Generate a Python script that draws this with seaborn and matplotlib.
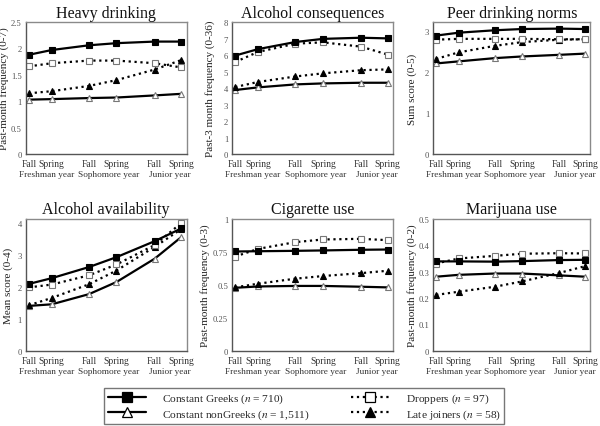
import matplotlib
matplotlib.use("Agg")
import matplotlib.pyplot as plt
import matplotlib.transforms as mtransforms
from matplotlib.lines import Line2D
from matplotlib.ticker import FuncFormatter
import seaborn as sns
import pandas as pd

sns.set_theme(style="white")
plt.rcParams['font.family'] = ['Liberation Serif', 'DejaVu Serif']
plt.rcParams['mathtext.fontset'] = 'stix'

# ---------------- data ----------------
waves = ["Fall", "Spring", "Fall", "Spring", "Fall", "Spring"]
years = ["Freshman year", "Sophomore year", "Junior year"]
groups = ["Constant Greeks", "Constant nonGreeks", "Droppers", "Late joiners"]

titles = ["Heavy drinking", "Alcohol consequences", "Peer drinking norms",
          "Alcohol availability", "Cigarette use", "Marijuana use"]
ylabels = ["Past-month frequency (0-7)", "Past-3 month frequency (0-36)", "Sum score (0-5)",
           "Mean score (0-4)", "Past-month frequency (0-3)", "Past-month frequency (0-2)"]

heavy_greeks = [1.88, 1.97, 2.06, 2.10, 2.13, 2.13]
heavy_nongreeks = [1.03, 1.04, 1.06, 1.07, 1.11, 1.14]
heavy_droppers = [1.66, 1.72, 1.77, 1.77, 1.72, 1.64]
heavy_late = [1.15, 1.19, 1.29, 1.40, 1.60, 1.78]

cons_greeks = [5.97, 6.36, 6.79, 6.98, 7.05, 7.01]
cons_nongreeks = [3.88, 4.04, 4.22, 4.28, 4.32, 4.32]
cons_droppers = [5.58, 6.19, 6.69, 6.77, 6.51, 6.03]
cons_late = [4.06, 4.37, 4.70, 4.89, 5.08, 5.13]

norms_greeks = [2.89, 2.96, 3.02, 3.05, 3.06, 3.05]
norms_nongreeks = [2.21, 2.26, 2.34, 2.38, 2.42, 2.45]
norms_droppers = [2.79, 2.81, 2.81, 2.81, 2.80, 2.80]
norms_late = [2.32, 2.48, 2.64, 2.73, 2.79, 2.80]

avail_greeks = [2.10, 2.28, 2.63, 2.94, 3.44, 3.84]
avail_nongreeks = [1.41, 1.46, 1.78, 2.16, 2.89, 3.57]
avail_droppers = [1.99, 2.08, 2.37, 2.71, 3.32, 4.01]
avail_late = [1.43, 1.66, 2.09, 2.52, 3.26, 3.82]

cig_greeks = [0.753, 0.755, 0.758, 0.761, 0.766, 0.768]
cig_nongreeks = [0.478, 0.488, 0.492, 0.492, 0.486, 0.481]
cig_droppers = [0.715, 0.773, 0.824, 0.844, 0.849, 0.839]
cig_late = [0.481, 0.509, 0.547, 0.567, 0.589, 0.607]

mj_greeks = [0.339, 0.339, 0.338, 0.340, 0.344, 0.345]
mj_nongreeks = [0.281, 0.288, 0.293, 0.293, 0.286, 0.281]
mj_droppers = [0.331, 0.350, 0.360, 0.368, 0.370, 0.369]
mj_late = [0.212, 0.224, 0.243, 0.263, 0.295, 0.321]

panel_data = [
    [heavy_greeks, heavy_nongreeks, heavy_droppers, heavy_late],
    [cons_greeks, cons_nongreeks, cons_droppers, cons_late],
    [norms_greeks, norms_nongreeks, norms_droppers, norms_late],
    [avail_greeks, avail_nongreeks, avail_droppers, avail_late],
    [cig_greeks, cig_nongreeks, cig_droppers, cig_late],
    [mj_greeks, mj_nongreeks, mj_droppers, mj_late],
]
yticks = [[0, 0.5, 1, 1.5, 2, 2.5], list(range(0, 9)), [0, 1, 2, 3],
          [0, 1, 2, 3, 4], [0, 0.25, 0.5, 0.75, 1], [0, 0.1, 0.2, 0.3, 0.4, 0.5]]
ylims = [(0, 2.5), (0, 8), (0, 3.22), (0, 4.14), (0, 1), (0, 0.5)]

legend_labels = [r"Constant Greeks ($n$ = 710)", r"Constant nonGreeks ($n$ = 1,511)",
                 r"Droppers ($n$ = 97)", r"Late joiners ($n$ = 58)"]

# ---------------- layout / style ----------------
xpos = [0, 1.5, 3.95, 5.75, 8.25, 10]
year_offset = [0.4, 0.4, 0.15]
ylabel_x = [-0.102, -0.105, -0.10, -0.08, -0.135, -0.10]
frame_gray = "#8a8a8a"
styles = {
    "Constant Greeks": dict(marker="s", mfc="black", mec="black", ls="-"),
    "Constant nonGreeks": dict(marker="^", mfc="white", mec="#777777", ls="-"),
    "Droppers": dict(marker="s", mfc="white", mec="#777777", ls=":"),
    "Late joiners": dict(marker="^", mfc="black", mec="black", ls=":"),
}
order = ["Constant nonGreeks", "Late joiners", "Droppers", "Constant Greeks"]

fig = plt.figure(figsize=(6.0, 4.27), dpi=100)
fig.patch.set_facecolor("white")
lefts = [0.043, 0.387, 0.722]
widths = [0.268, 0.268, 0.262]
bottoms = [0.637, 0.176]
h = 0.309

fmt = FuncFormatter(lambda v, p: ("%g" % v))

for i in range(6):
    r, c = divmod(i, 3)
    ax = fig.add_axes([lefts[c], bottoms[r], widths[c], h])
    for g in order:
        gi = groups.index(g)
        df = pd.DataFrame({"x": xpos, "y": panel_data[i][gi]})
        st = styles[g]
        sns.lineplot(data=df, x="x", y="y", ax=ax, color="black", lw=1.6,
                     linestyle=st["ls"], marker=st["marker"], markersize=5,
                     markerfacecolor=st["mfc"], markeredgecolor=st["mec"],
                     markeredgewidth=0.8, legend=False)
    ax.set_xlim(-0.2, 10.35)
    ax.set_ylim(*ylims[i])
    ax.set_yticks(yticks[i])
    ax.yaxis.set_major_formatter(fmt)
    ax.set_xticks(xpos)
    ax.set_xticklabels(waves)
    ax.set_xlabel("")
    ax.set_ylabel(ylabels[i], fontsize=8.0, color="#222222")
    ax.yaxis.set_label_coords(ylabel_x[i], 0.5)
    ax.set_title(titles[i], fontsize=11.5, pad=4, color="#111111")
    for s in ax.spines.values():
        s.set_color(frame_gray)
        s.set_linewidth(1.0)
        s.set_visible(True)
    ax.spines["left"].set_color("#555555")
    ax.spines["bottom"].set_color("#555555")
    ax.tick_params(axis="both", direction="inout", length=5, width=0.9,
                   colors="#444444", labelsize=6.2, pad=1)
    ax.tick_params(axis="x", labelsize=6.9, labelcolor="#333333")
    ax.tick_params(axis="y", pad=0.5, labelcolor="#555555")
    ax.grid(False)
    trans = mtransforms.blended_transform_factory(ax.transData, ax.transAxes)
    for k, yr in enumerate(years):
        xm = (xpos[2 * k] + xpos[2 * k + 1]) / 2 + year_offset[k]
        ax.text(xm, -0.125, yr, transform=trans, ha="center", va="top",
                fontsize=6.7, color="#333333")

handles = []
for g in groups:
    st = styles[g]
    handles.append(Line2D([0], [0], color="black", lw=1.6, linestyle=st["ls"],
                          marker=st["marker"], markersize=7,
                          markerfacecolor=st["mfc"], markeredgecolor="black",
                          markeredgewidth=0.9))
leg = fig.legend(handles, legend_labels,
                 ncol=2, loc="center", bbox_to_anchor=(0.507, 0.047),
                 frameon=True, fancybox=False, fontsize=8.2, handlelength=3.4,
                 columnspacing=3.6, handletextpad=1.4, borderpad=0.3,
                 labelspacing=0.2, borderaxespad=0)
leg.get_frame().set_edgecolor("#555555")
leg.get_frame().set_linewidth(1.0)

fig.savefig("out.png", dpi=100, facecolor="white")
